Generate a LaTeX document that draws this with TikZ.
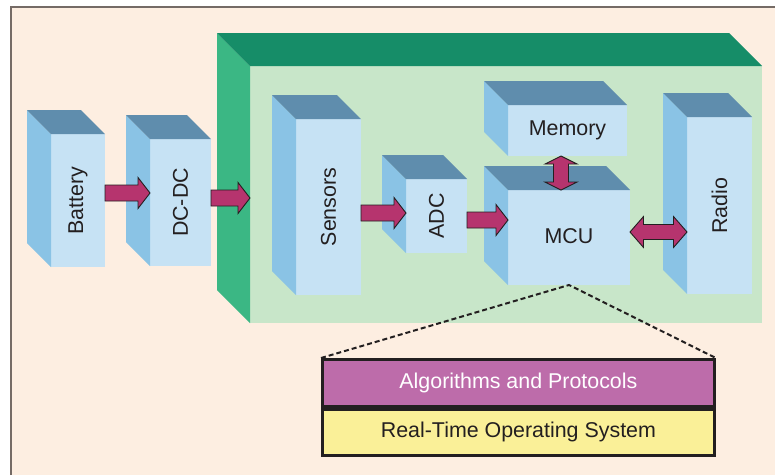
\documentclass[tikz,border=0pt]{standalone}
\usepackage{fontspec}
\setmainfont{Liberation Sans}
\usepackage{graphicx}
\usetikzlibrary{calc}

\definecolor{paper}{HTML}{FDEEE1}
\definecolor{framegray}{HTML}{756B66}
\definecolor{frontblue}{HTML}{C6E2F4}
\definecolor{sideblue}{HTML}{8AC3E5}
\definecolor{topblue}{HTML}{5F8DAD}
\definecolor{boardfront}{HTML}{C8E6C9}
\definecolor{boardside}{HTML}{3BB784}
\definecolor{boardtop}{HTML}{168D68}
\definecolor{plum}{HTML}{B6346E}
\definecolor{algofill}{HTML}{BD6CAA}
\definecolor{rtosfill}{HTML}{FAF098}
\definecolor{ink}{HTML}{231F20}

\newcommand{\labelfont}{\fontsize{21.4}{24}\selectfont}
% side and top faces behind a front face
\newcommand{\boxfaces}[4]{%
  \fill[#3] (#1.north west) -- ++(-#2,-#2) -- ($(#1.south west)+(-#2,-#2)$) -- (#1.south west) -- cycle;
  \fill[#4] (#1.north west) -- ++(-#2,-#2) -- ($(#1.north east)+(-#2,-#2)$) -- (#1.north east) -- cycle;
}

\tikzset{
  block/.style={fill=frontblue, text=ink, inner sep=0pt, outer sep=0pt, anchor=north west, font=\labelfont},
  board/.style={fill=boardfront, inner sep=0pt, outer sep=0pt, anchor=north west},
  layer/.style={draw=ink, line width=2.8pt, inner sep=0pt, anchor=north west, font=\labelfont},
  fatline/.style={draw=ink, fill=plum, line width=0.9pt, line join=miter},
  pushto/.style={fatline, to path={let \p1=(\tikztostart), \p2=(\tikztotarget) in
    (\x1,{\y1+8pt}) -- ({\x2-12pt},{\y1+8pt}) -- ({\x2-12pt},{\y1+15.5pt}) -- (\x2,\y1)
    -- ({\x2-12pt},{\y1-15.5pt}) -- ({\x2-12pt},{\y1-8pt}) -- (\x1,{\y1-8pt}) -- cycle}},
  talkto/.style={fatline, to path={let \p1=(\tikztostart), \p2=(\tikztotarget) in
    (\x1,\y1) -- ({\x1+13.5pt},{\y1+15.5pt}) -- ({\x1+13.5pt},{\y1+7.5pt}) -- ({\x2-13.5pt},{\y1+7.5pt})
    -- ({\x2-13.5pt},{\y1+15.5pt}) -- (\x2,\y1) -- ({\x2-13.5pt},{\y1-15.5pt}) -- ({\x2-13.5pt},{\y1-7.5pt})
    -- ({\x1+13.5pt},{\y1-7.5pt}) -- ({\x1+13.5pt},{\y1-15.5pt}) -- cycle}},
  talkvert/.style={fatline, to path={let \p1=(\tikztostart), \p2=(\tikztotarget) in
    (\x1,\y1) -- ({\x1+16pt},{\y1-8pt}) -- ({\x1+7.5pt},{\y1-8pt}) -- ({\x1+7.5pt},{\y2+8pt})
    -- ({\x1+16pt},{\y2+8pt}) -- (\x1,\y2) -- ({\x1-16pt},{\y2+8pt}) -- ({\x1-7.5pt},{\y2+8pt})
    -- ({\x1-7.5pt},{\y1-8pt}) -- ({\x1-16pt},{\y1-8pt}) -- cycle}},
  dashline/.style={draw=ink, line width=2pt, dash pattern=on 5pt off 3pt}
}

\begin{document}
\begin{tikzpicture}[x=1pt,y=-1pt]
  \useasboundingbox (0,0) rectangle (775,475);
  \fill[white] (0,0) rectangle (775,475);
  \fill[paper] (11,7) rectangle (775,475);
  \draw[framegray, line width=1.2pt] (11,475) -- (11,7) -- (775,7);

  \node[board, minimum width=512pt, minimum height=257pt] (board) at (250,66) {};
  \boxfaces{board}{33}{boardside}{boardtop}

  \node[block, minimum width=54pt, minimum height=133pt] (battery) at (51,134) {\rotatebox{90}{Battery}};
  \node[block, minimum width=61pt, minimum height=127pt] (dcdc) at (150,139) {\rotatebox{90}{DC-DC}};
  \node[block, minimum width=65pt, minimum height=176pt] (sensors) at (296,119) {\rotatebox{90}{Sensors}};
  \node[block, minimum width=61pt, minimum height=74pt] (adc) at (406,179) {\rotatebox{90}{ADC}};
  \node[block, minimum width=119pt, minimum height=51pt] (memory) at (508,105) {Memory};
  \node[block, minimum width=122pt, minimum height=95pt] (mcu) at (508,190) {\raisebox{3pt}{MCU}};
  \node[block, minimum width=65pt, minimum height=177pt] (radio) at (687,117) {\rotatebox{90}{Radio}};
  \foreach \b in {battery,dcdc,sensors,adc,memory,mcu,radio}
    {\boxfaces{\b}{24}{sideblue}{topblue}}

  \draw[pushto] (battery.east |- 0,193) to (dcdc.west |- 0,193);
  \draw[pushto] (dcdc.east |- 0,198) to (board.west |- 0,198);
  \draw[pushto] (sensors.east |- 0,213) to (adc.west |- 0,213);
  \draw[pushto] (adc.east |- 0,220) to (mcu.west |- 0,220);
  \draw[talkvert] (memory.south -| 561,0) to (mcu.north -| 561,0);
  \draw[talkto] (mcu.east |- 0,232) to (radio.west |- 0,232);

  \node[layer, fill=algofill, text=white, minimum width=392pt, minimum height=47pt] (algo) at (321,358) {Algorithms and Protocols};
  \node[layer, fill=rtosfill, text=ink, minimum width=392pt, minimum height=46pt, anchor=north] (rtos) at (algo.south) {Real-Time Operating System};
  \draw[dashline] (algo.north west) -- (mcu.south) -- (algo.north east);
\end{tikzpicture}
\end{document}
